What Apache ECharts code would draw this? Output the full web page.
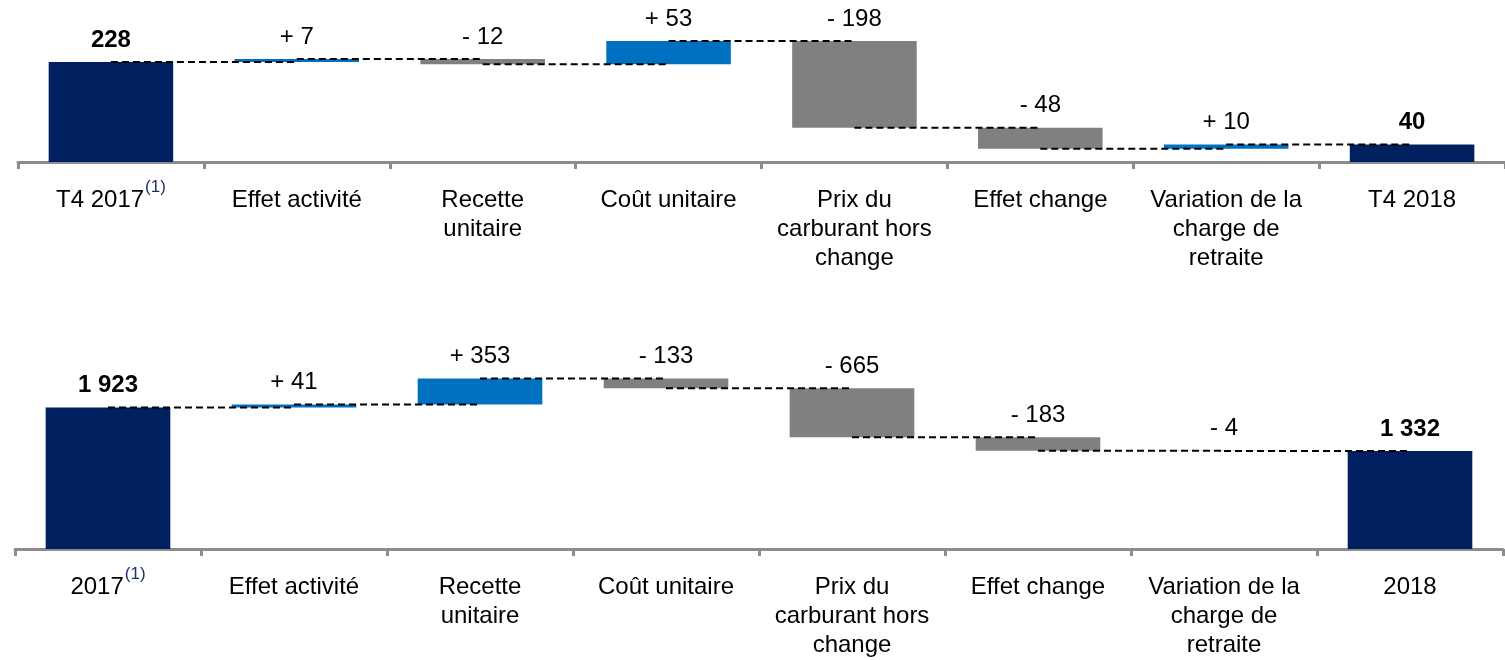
<!DOCTYPE html>
<html>
<head>
<meta charset="utf-8">
<script src="https://cdn.jsdelivr.net/npm/echarts@6/dist/echarts.min.js"></script>
<style>
  html, body { margin: 0; padding: 0; background: #fff; }
  #chart { width: 1505px; height: 660px; }
</style>
</head>
<body>
<div id="chart"></div>
<script>
// categories (the first one gets a "(1)" footnote mark)
const categoriesTop = ["T4 2017", "Effet activité", "Recette\nunitaire", "Coût unitaire",
  "Prix du\ncarburant hors\nchange", "Effet change", "Variation de la\ncharge de\nretraite", "T4 2018"];
const categoriesBottom = ["2017", "Effet activité", "Recette\nunitaire", "Coût unitaire",
  "Prix du\ncarburant hors\nchange", "Effet change", "Variation de la\ncharge de\nretraite", "2018"];
const footnoteMark = "(1)";

// first and last are totals, the rest are changes
const valuesTop = [228, 7, -12, 53, -198, -48, 10, 40];
const valuesBottom = [1923, 41, 353, -133, -665, -183, -4, 1332];

const NAVY = "#00205f";
const BLUE = "#0070c0";
const GREY = "#808080";
const FONT = "Liberation Sans, Arial, sans-serif";

function fmt(n) {
  return String(n).replace(/\B(?=(\d{3})+(?!\d))/g, " ");
}

// base (invisible) + visible part, plus the running level after each bar
function waterfall(values) {
  const base = [], size = [], levels = [];
  let cum = 0;
  values.forEach((v, i) => {
    if (i === 0 || i === values.length - 1) {
      base.push(0); size.push(v); cum = v;
    } else {
      base.push(Math.min(cum, cum + v)); size.push(Math.abs(v)); cum += v;
    }
    levels.push(cum);
  });
  return { base, size, levels };
}

const wTop = waterfall(valuesTop);
const wBottom = waterfall(valuesBottom);

function xAxisFor(gridIndex, cats) {
  return {
    type: "category",
    gridIndex: gridIndex,
    data: cats,
    axisLine: { lineStyle: { color: "#8c8c8c", width: 3 } },
    axisTick: { show: true, length: 7, lineStyle: { color: "#8c8c8c", width: 3 } },
    axisLabel: {
      interval: 0,
      margin: 24,
      color: "#000",
      fontFamily: FONT,
      fontSize: 24,
      lineHeight: 29,
      formatter: (v, i) => (i === 0 ? "{m|" + v + "}{sup|" + footnoteMark + "}" : v),
      rich: {
        m: { fontFamily: FONT, fontSize: 24, lineHeight: 29, color: "#000" },
        sup: { fontFamily: FONT, fontSize: 17, color: "#1f2f6b", verticalAlign: "bottom", padding: [0, 0, 19, 1] }
      }
    }
  };
}

function seriesFor(idx, values, w) {
  const n = values.length;
  const colorOf = (i) => (i === 0 || i === n - 1 ? NAVY : values[i] > 0 ? BLUE : GREY);
  return [
    {
      type: "bar",
      xAxisIndex: idx, yAxisIndex: idx,
      stack: "wf" + idx,
      data: w.base,
      itemStyle: { color: "transparent" },
      barCategoryGap: "33%",
      silent: true
    },
    {
      type: "bar",
      xAxisIndex: idx, yAxisIndex: idx,
      stack: "wf" + idx,
      data: w.size.map((s, i) => ({ value: s, itemStyle: { color: colorOf(i) } })),
      barCategoryGap: "33%",
      label: {
        show: true,
        position: "top",
        distance: 10,
        formatter: (p) => {
          const i = p.dataIndex, v = values[i];
          if (i === 0 || i === n - 1) return "{t|" + fmt(v) + "}";
          return "{d|" + (v > 0 ? "+ " : "- ") + fmt(Math.abs(v)) + "}";
        },
        rich: {
          t: { fontFamily: FONT, fontSize: 24, fontWeight: "bold", color: "#000" },
          d: { fontFamily: FONT, fontSize: 24, color: "#000" }
        }
      }
    },
    {
      type: "custom",
      xAxisIndex: idx, yAxisIndex: idx,
      z: 5,
      silent: true,
      data: w.levels.slice(0, n - 1).map((lvl, i) => [i, lvl]),
      encode: { x: 0, y: 1 },
      renderItem: (params, api) => {
        const i = api.value(0), lvl = api.value(1);
        const p1 = api.coord([i, lvl]);
        const p2 = api.coord([i + 1, lvl]);
        return {
          type: "line",
          shape: { x1: p1[0], y1: p1[1], x2: p2[0], y2: p2[1] },
          style: { stroke: "#000", lineWidth: 2, lineDash: [7, 4] }
        };
      }
    }
  ];
}

const chart = echarts.init(document.getElementById("chart"), null, { renderer: "canvas" });
chart.setOption({
  animation: false,
  backgroundColor: "#fff",
  grid: [
    { left: 18, width: 1489, top: 12, height: 150 },
    { left: 15, width: 1488, top: 361, height: 190 }
  ],
  xAxis: [xAxisFor(0, categoriesTop), xAxisFor(1, categoriesBottom)],
  yAxis: [
    { type: "value", gridIndex: 0, min: 0, max: 342, show: false, splitLine: { show: false } },
    { type: "value", gridIndex: 1, min: 0, max: 2555, show: false, splitLine: { show: false } }
  ],
  series: [...seriesFor(0, valuesTop, wTop), ...seriesFor(1, valuesBottom, wBottom)]
});
</script>
</body>
</html>
